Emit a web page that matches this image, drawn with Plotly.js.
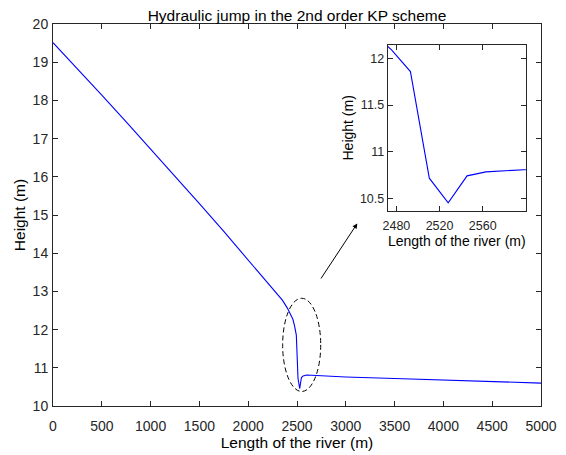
<!DOCTYPE html>
<html>
<head>
<meta charset="utf-8">
<script src="https://cdn.plot.ly/plotly-3.0.1.min.js"></script>
<style>html,body{margin:0;padding:0;background:#fff;}#chart{width:566px;height:455px;}</style>
</head>
<body>
<div id="chart"></div>
<script>
// Main profile: length along the river (m) and water height (m)
var riverX = [0, 250, 500, 750, 1000, 1250, 1500, 1750, 2000, 2200, 2300, 2350, 2400, 2440, 2458, 2475.5, 2493, 2510.5, 2528, 2545.5, 2563, 2580.5, 2598, 2700, 3000, 3500, 4000, 4500, 5000];
var riverH = [19.51, 18.83, 18.14, 17.44, 16.73, 16.02, 15.30, 14.57, 13.83, 13.24, 12.94, 12.77, 12.57, 12.39, 12.27, 12.09, 11.857, 10.72, 10.457, 10.745, 10.787, 10.80, 10.81, 10.80, 10.76, 10.72, 10.68, 10.64, 10.60];

// Main axis ticks
var mainXTicks = [0, 500, 1000, 1500, 2000, 2500, 3000, 3500, 4000, 4500, 5000];
var mainYTicks = [10, 11, 12, 13, 14, 15, 16, 17, 18, 19, 20];

// Inset axis ticks and ranges
var insetXTicks = [2480, 2520, 2560];
var insetYTicks = [10.5, 11, 11.5, 12];
var insetXRange = [2472, 2600];
var insetYRange = [10.37, 12.145];

// Highlight ellipse (data coordinates) and arrow (tail -> head)
var ellipseX = [2353, 2743];
var ellipseY = [10.38, 12.82];
var arrowTail = [2736, 13.30];
var arrowHead = [3118, 14.78];

var FONT = 'Liberation Sans, Arial, Helvetica, sans-serif';
var AX = '#262626';

var traces = [
  {x: riverX, y: riverH, type: 'scatter', mode: 'lines',
   line: {color: '#0000ff', width: 1.1}, xaxis: 'x', yaxis: 'y', hoverinfo: 'skip'},
  {x: riverX, y: riverH, type: 'scatter', mode: 'lines',
   line: {color: '#0000ff', width: 1.1}, xaxis: 'x2', yaxis: 'y2', hoverinfo: 'skip'}
];

function axisBase(extra) {
  var a = {
    showline: true, linecolor: AX, linewidth: 1, mirror: 'ticks',
    ticks: 'inside', ticklen: 5, tickcolor: AX, tickwidth: 1,
    showgrid: false, zeroline: false,
    tickfont: {family: FONT, size: 14, color: AX}
  };
  for (var k in extra) a[k] = extra[k];
  return a;
}

var layout = {
  width: 566, height: 455,
  margin: {l: 53, r: 25, t: 24, b: 49},
  paper_bgcolor: '#ffffff', plot_bgcolor: '#ffffff',
  showlegend: false,
  font: {family: FONT, color: AX},
  title: {text: 'Hydraulic jump in the 2nd order KP scheme',
          font: {family: FONT, size: 15.5, color: '#000'},
          x: 0.5, xref: 'paper', y: 1, yref: 'paper', yanchor: 'bottom', pad: {b: 3}},
  xaxis: axisBase({range: [0, 5000], tickvals: mainXTicks, ticktext: mainXTicks.map(String),
    ticklabelstandoff: 7,
    title: {text: 'Length of the river (m)', font: {family: FONT, size: 15.5, color: '#000'}, standoff: 3},
    domain: [0, 1], anchor: 'y'}),
  yaxis: axisBase({range: [10, 20], tickvals: mainYTicks, ticktext: mainYTicks.map(String),
    ticklabelstandoff: 1,
    title: {text: 'Height (m)', font: {family: FONT, size: 15.5, color: '#000'}, standoff: 3},
    domain: [0, 1], anchor: 'x'}),
  xaxis2: axisBase({range: insetXRange, tickvals: insetXTicks, ticktext: insetXTicks.map(String),
    tickfont: {family: FONT, size: 12.5, color: AX}, ticklabelstandoff: 3,
    title: {text: 'Length of the river (m)', font: {family: FONT, size: 14, color: '#000'}, standoff: 2},
    domain: [0.686, 0.969], anchor: 'y2'}),
  yaxis2: axisBase({range: insetYRange, tickvals: insetYTicks, ticktext: insetYTicks.map(String),
    tickfont: {family: FONT, size: 12.5, color: AX}, ticklabelstandoff: 0,
    title: {text: 'Height (m)', font: {family: FONT, size: 14, color: '#000'}, standoff: 3},
    domain: [0.5105, 0.946], anchor: 'x2'}),
  shapes: [
    {type: 'circle', xref: 'x', yref: 'y', x0: ellipseX[0], x1: ellipseX[1], y0: ellipseY[0], y1: ellipseY[1],
     line: {color: '#000', width: 1, dash: '5px,3px'}, fillcolor: 'rgba(0,0,0,0)', layer: 'above'}
  ],
  annotations: [
    {x: arrowHead[0], y: arrowHead[1], xref: 'x', yref: 'y',
     ax: arrowTail[0], ay: arrowTail[1], axref: 'x', ayref: 'y',
     showarrow: true, arrowhead: 2, arrowsize: 1, arrowwidth: 1, arrowcolor: '#000', text: ''}
  ]
};

Plotly.newPlot('chart', traces, layout, {staticPlot: true, displayModeBar: false});
</script>
</body>
</html>
